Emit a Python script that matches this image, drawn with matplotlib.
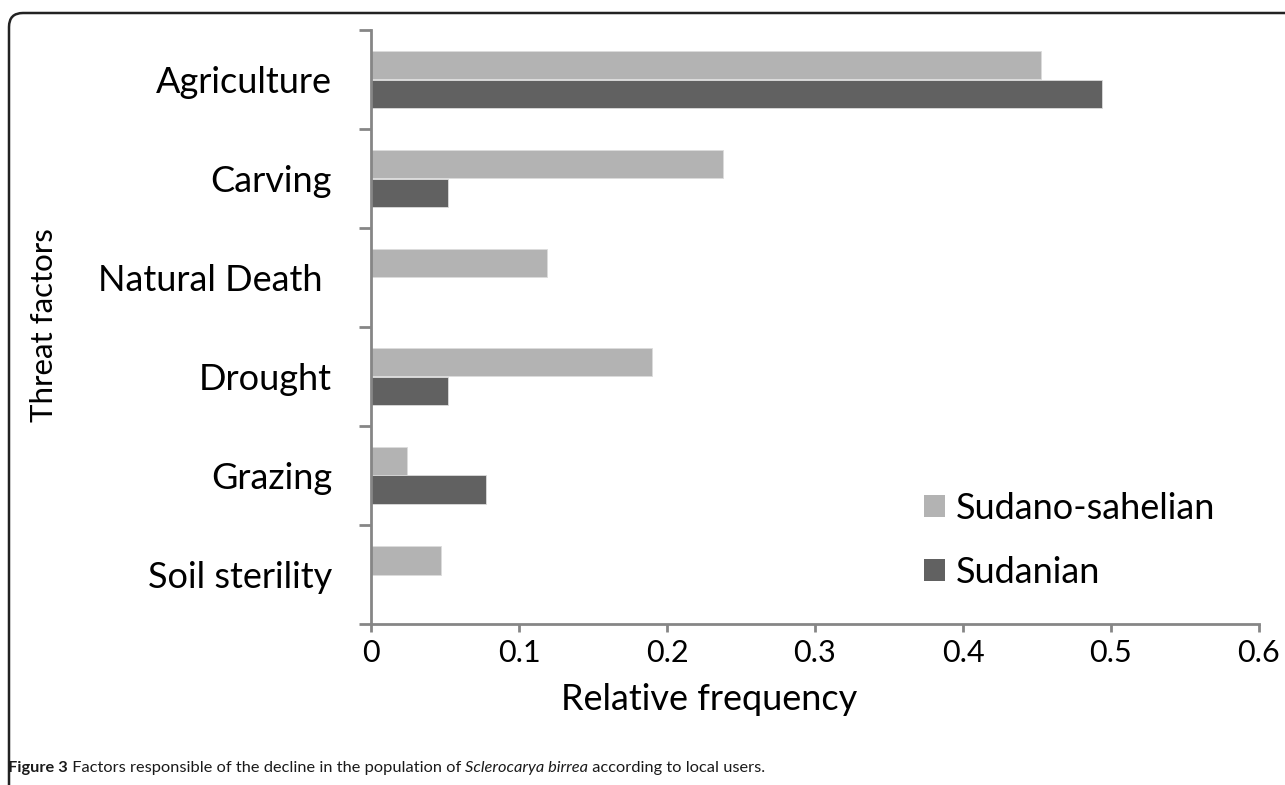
import matplotlib
matplotlib.use("Agg")
import matplotlib.pyplot as plt
from matplotlib.patches import FancyBboxPatch, Patch
from matplotlib.transforms import IdentityTransform
import numpy as np

# Data
categories = ["Agriculture", "Carving", "Natural Death ", "Drought", "Grazing", "Soil sterility"]
sudano_sahelian = [0.453, 0.238, 0.119, 0.190, 0.024, 0.047]
sudanian = [0.494, 0.052, 0.0, 0.052, 0.078, 0.0]
x_ticks = [0, 0.1, 0.2, 0.3, 0.4, 0.5, 0.6]
x_tick_labels = ["0", "0.1", "0.2", "0.3", "0.4", "0.5", "0.6"]
series_names = ["Sudano-sahelian", "Sudanian"]

light = "#b3b3b3"
dark = "#616161"
spine = "#868686"

plt.rcParams['font.family'] = ['Lato', 'DejaVu Sans']

fig = plt.figure(figsize=(12.85, 7.85), dpi=100)
ax = fig.add_axes([371 / 1285, 1 - 624 / 785, 888 / 1285, 594 / 785])

pos = np.arange(len(categories))
h = 0.283
ax.barh(pos - h / 2, sudano_sahelian, height=h, color=light, edgecolor="#dcdcdc", linewidth=0.6)
ax.barh(pos + h / 2, sudanian, height=h, color=dark, edgecolor="#dcdcdc", linewidth=0.6)

ax.set_xlim(0, 0.6)
ax.set_ylim(len(categories) - 0.5, -0.5)

# category boundaries as major ticks, labels on minor ticks
ax.set_yticks(np.arange(len(categories) + 1) - 0.5)
ax.set_yticklabels([])
ax.set_yticks(pos, minor=True)
ax.set_yticklabels(categories, minor=True, fontsize=26)
ax.tick_params(axis="y", which="major", length=9, width=2, color=spine)
ax.tick_params(axis="y", which="minor", length=0, pad=28)

ax.set_xticks(x_ticks)
ax.set_xticklabels(x_tick_labels, fontsize=22)
ax.tick_params(axis="x", length=6, width=2, color=spine, pad=5)

for s in ["top", "right"]:
    ax.spines[s].set_visible(False)
for s in ["left", "bottom"]:
    ax.spines[s].set_color(spine)
    ax.spines[s].set_linewidth(2)

fig.text(709 / 1285, 1 - 700 / 785, "Relative frequency", fontsize=26,
         ha="center", va="center")
fig.text(44 / 1285, 1 - 325 / 785, "Threat factors", rotation=90, fontsize=22.5,
         ha="center", va="center")

handles = [Patch(facecolor=light), Patch(facecolor=dark)]
ax.legend(handles, series_names, loc="center left", bbox_to_anchor=(0.623, 0.141),
          frameon=False, fontsize=26, handlelength=0.58, handleheight=0.58,
          handletextpad=0.3, labelspacing=0.85, borderpad=0, borderaxespad=0)

# rounded frame, cut off at the right and bottom edges
frame = FancyBboxPatch((9, -40), 1400, 785 - 13 + 40, boxstyle="round,pad=0,rounding_size=14",
                       transform=IdentityTransform(), facecolor="none", edgecolor="#222222",
                       linewidth=1.8)
fig.patches.append(frame)

# caption built from pieces
pieces = [("Figure 3", "bold", "normal"),
          (" Factors responsible of the decline in the population of ", "normal", "normal"),
          ("Sclerocarya birrea", "normal", "italic"),
          (" according to local users.", "normal", "normal")]
fig.canvas.draw()
renderer = fig.canvas.get_renderer()
x = 8
for txt, weight, style in pieces:
    t = fig.text(x / 1285, 1 - 768 / 785, txt, fontsize=11.8, fontweight=weight,
                 fontstyle=style, va="center", ha="left", color="#1a1a1a")
    bb = t.get_window_extent(renderer)
    x += bb.width

fig.savefig("out.png", dpi=100)
